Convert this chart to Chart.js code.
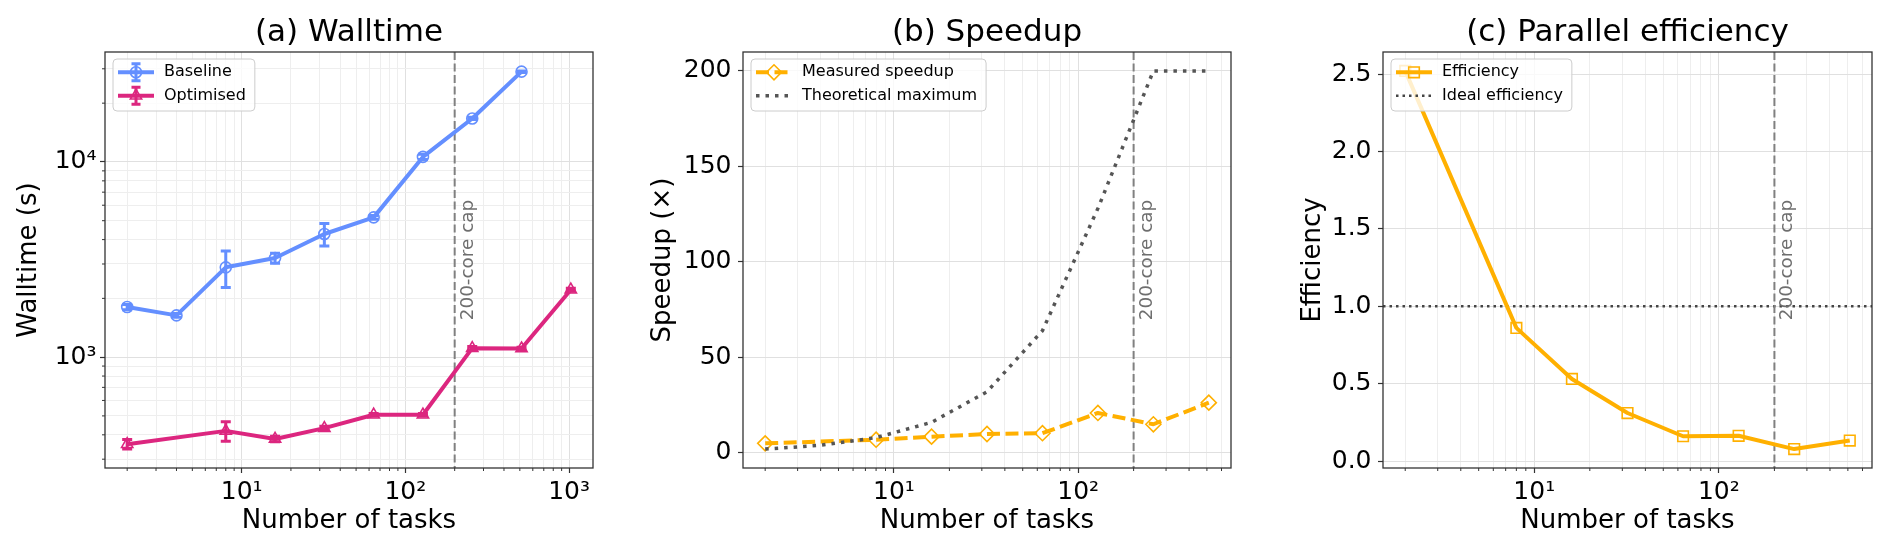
<!DOCTYPE html>
<html>
<head>
<meta charset="utf-8">
<title>Scaling results</title>
<script src="https://cdn.jsdelivr.net/npm/chart.js@4.4.1/dist/chart.umd.min.js"></script>
<style>
  html, body { margin: 0; padding: 0; background: #ffffff; }
  #figure { position: relative; width: 1892px; height: 546px; overflow: hidden; }
  #figure canvas { position: absolute; top: 0; }
</style>
</head>
<body>
<div id="figure">
  <canvas id="walltimeChart" width="630" height="546" style="left:0px"></canvas>
  <canvas id="speedupChart" width="630" height="546" style="left:630px"></canvas>
  <canvas id="efficiencyChart" width="632" height="546" style="left:1260px"></canvas>
</div>
<script>
// values
var tasksBaseline = [2, 4, 8, 16, 32, 64, 128, 256, 512];
var walltimeBaseline = [1805, 1636, 2884, 3220, 4274, 5200, 10610, 16700, 29000];
var errBaseline = [55, 35, 610, 190, 560, 110, 330, 220, 260];

var tasksOptimised = [2, 8, 16, 32, 64, 128, 256, 512, 1024];
var walltimeOptimised = [358, 419, 381, 433, 507, 507, 1112, 1107, 2216];
var errOptimised = [20, 48, 12, 10, 8, 8, 20, 18, 40];

var tasksScaling = [2, 8, 16, 32, 64, 128, 256, 512];
var speedupMeasured = [5.0, 6.9, 8.5, 9.9, 10.3, 20.9, 15.0, 26.3];
var efficiencyMeasured = [2.52, 0.86, 0.53, 0.31, 0.16, 0.163, 0.077, 0.132];

var tasksTheory = [2, 4, 8, 16, 32, 64, 128, 256, 512];
var speedupTheory = [2, 4, 8, 16, 32, 64, 128, 200, 200];

var coreCap = 200;
var idealEfficiency = 1.0;

var decadeLabels = {10: '10¹', 100: '10²', 1000: '10³', 10000: '10⁴'};
var speedupTicks = [0, 50, 100, 150, 200];
var efficiencyTicks = [0, 0.5, 1.0, 1.5, 2.0, 2.5];

var BLUE = '#648FFF', MAGENTA = '#DC267F', AMBER = '#FFB000';
var FONT = "'DejaVu Sans', sans-serif";
Chart.defaults.font.family = FONT;
Chart.defaults.color = '#000000';

function toPoints(xs, ys) {
  return xs.map(function (x, i) { return {x: x, y: ys[i]}; });
}
function isDecade(v) {
  var l = Math.log10(v);
  return Math.abs(l - Math.round(l)) < 1e-9;
}
// matplotlib style 5% margins
function logLimits(values) {
  var lo = Math.log10(Math.min.apply(null, values)), hi = Math.log10(Math.max.apply(null, values));
  var m = (hi - lo) * 0.05;
  return [Math.pow(10, lo - m), Math.pow(10, hi + m)];
}
function linLimits(values) {
  var lo = Math.min.apply(null, values), hi = Math.max.apply(null, values);
  var m = (hi - lo) * 0.05;
  return [lo - m, hi + m];
}
function logGridValues(lo, hi) {
  var out = [];
  for (var k = Math.floor(Math.log10(lo)); k <= Math.ceil(Math.log10(hi)); k++) {
    for (var d = 1; d <= 9; d++) {
      var v = d * Math.pow(10, k);
      if (v >= lo && v <= hi) out.push(v);
    }
  }
  return out;
}
function decadeLabel(v) { return decadeLabels[v] || ''; }

var logGrid = {
  color: function (c) { return c.tick && isDecade(c.tick.value) ? '#e0e0e0' : '#eeeeee'; },
  tickColor: function (c) { return c.tick && isDecade(c.tick.value) ? '#333333' : 'rgba(0,0,0,0)'; },
  tickLength: 5, tickWidth: 1.2, lineWidth: 1
};
var linGrid = { color: '#e0e0e0', tickColor: '#333333', tickLength: 5, tickWidth: 1.2, lineWidth: 1 };

function taskAxis(lim) {
  return {
    type: 'logarithmic', position: 'bottom', min: lim[0], max: lim[1], bounds: 'data',
    afterBuildTicks: function (axis) {
      axis.ticks = logGridValues(lim[0], lim[1]).map(function (v) { return {value: v}; });
    },
    afterFit: function (axis) { axis.height = 78; },
    ticks: {autoSkip: false, maxRotation: 0, minRotation: 0, padding: 4, font: {size: 25}, callback: decadeLabel},
    grid: logGrid,
    border: {display: false},
    title: {display: true, text: 'Number of tasks', font: {size: 26}, padding: {top: 0, bottom: 8.9}}
  };
}

function drawMarker(ctx, style, x, y, r) {
  ctx.beginPath();
  if (style === 'triangle') {
    ctx.moveTo(x, y - r); ctx.lineTo(x + 0.866 * r, y + 0.5 * r); ctx.lineTo(x - 0.866 * r, y + 0.5 * r); ctx.closePath();
  } else if (style === 'rectRot') {
    ctx.moveTo(x - r, y); ctx.lineTo(x, y - r); ctx.lineTo(x + r, y); ctx.lineTo(x, y + r); ctx.closePath();
  } else if (style === 'rect') {
    var s = Math.SQRT1_2 * r;
    ctx.rect(x - s, y - s, 2 * s, 2 * s);
  } else {
    ctx.arc(x, y, r, 0, 2 * Math.PI);
  }
  ctx.stroke();
}

// reference lines: 200-core cap and ideal efficiency
var refLines = {
  id: 'refLines',
  beforeDatasetsDraw: function (chart, args, opts) {
    var ctx = chart.ctx, a = chart.chartArea;
    ctx.save();
    if (opts.hLine) {
      var py = chart.scales.y.getPixelForValue(opts.hLine.value);
      ctx.strokeStyle = opts.hLine.color; ctx.lineWidth = opts.hLine.width; ctx.setLineDash(opts.hLine.dash);
      ctx.beginPath(); ctx.moveTo(a.left, py); ctx.lineTo(a.right, py); ctx.stroke();
    }
    var px = chart.scales.x.getPixelForValue(opts.vLine);
    ctx.strokeStyle = '#808080'; ctx.lineWidth = 2; ctx.setLineDash([8, 3.5]);
    ctx.beginPath(); ctx.moveTo(px, a.top); ctx.lineTo(px, a.bottom); ctx.stroke();
    ctx.restore();
  },
  afterDatasetsDraw: function (chart, args, opts) {
    var ctx = chart.ctx, a = chart.chartArea;
    var px = chart.scales.x.getPixelForValue(opts.vLine);
    ctx.save();
    ctx.translate(px + 18, (a.top + a.bottom) / 2);
    ctx.rotate(-Math.PI / 2);
    ctx.font = '18.4px ' + FONT;
    ctx.fillStyle = '#6e6e6e';
    ctx.textAlign = 'center';
    ctx.textBaseline = 'alphabetic';
    ctx.fillText(opts.vLabel, 0, 0);
    ctx.restore();
  }
};

var errorBars = {
  id: 'errorBars',
  beforeDatasetsDraw: function (chart) {
    var ctx = chart.ctx, a = chart.chartArea, xs = chart.scales.x, ys = chart.scales.y;
    ctx.save();
    ctx.beginPath(); ctx.rect(a.left, a.top, a.right - a.left, a.bottom - a.top); ctx.clip();
    chart.data.datasets.forEach(function (ds) {
      if (!ds.errors) return;
      ctx.strokeStyle = ds.borderColor; ctx.lineWidth = 3;
      ds.data.forEach(function (pt, i) {
        var e = ds.errors[i];
        var px = xs.getPixelForValue(pt.x);
        var top = ys.getPixelForValue(pt.y + e), bot = ys.getPixelForValue(pt.y - e);
        ctx.beginPath();
        ctx.moveTo(px, top); ctx.lineTo(px, bot);
        ctx.moveTo(px - 5, top); ctx.lineTo(px + 5, top);
        ctx.moveTo(px - 5, bot); ctx.lineTo(px + 5, bot);
        ctx.stroke();
      });
    });
    ctx.restore();
  }
};

// axes box and minor ticks
var frame = {
  id: 'frame',
  afterDatasetsDraw: function (chart) {
    var ctx = chart.ctx, a = chart.chartArea;
    ctx.save();
    ctx.strokeStyle = '#333333';
    ctx.lineWidth = 1.3;
    ctx.strokeRect(a.left, a.top, a.right - a.left, a.bottom - a.top);
    ctx.lineWidth = 1;
    Object.keys(chart.scales).forEach(function (k) {
      var s = chart.scales[k];
      if (s.type !== 'logarithmic') return;
      s.ticks.forEach(function (t) {
        if (isDecade(t.value)) return;
        var p = s.getPixelForValue(t.value);
        ctx.beginPath();
        if (s.isHorizontal()) { ctx.moveTo(p, a.bottom); ctx.lineTo(p, a.bottom + 3); }
        else { ctx.moveTo(a.left - 3, p); ctx.lineTo(a.left, p); }
        ctx.stroke();
      });
    });
    ctx.restore();
  }
};

var boxLegend = {
  id: 'boxLegend',
  afterDraw: function (chart, args, opts) {
    var ctx = chart.ctx, a = chart.chartArea;
    var items = chart.data.datasets.map(function (ds) {
      return {label: ds.label, color: ds.borderColor, width: ds.borderWidth, dash: ds.borderDash || [],
        marker: ds.pointRadius > 0 ? ds.pointStyle : null, radius: ds.pointRadius,
        markerWidth: ds.pointBorderWidth, errorbar: !!ds.errors};
    });
    if (opts.extra) items = items.concat(opts.extra);
    ctx.save();
    ctx.font = '16px ' + FONT;
    var textW = 0;
    items.forEach(function (it) { textW = Math.max(textW, ctx.measureText(it.label).width); });
    var x0 = a.left + 8, y0 = a.top + 7, w = 51 + textW + 9, h = 52;
    ctx.beginPath();
    ctx.roundRect(x0, y0, w, h, 4);
    ctx.fillStyle = 'rgba(255,255,255,0.8)';
    ctx.fill();
    ctx.strokeStyle = '#cccccc'; ctx.lineWidth = 1;
    ctx.stroke();
    items.forEach(function (it, i) {
      var cy = y0 + 13.3 + i * 23.4;
      var hx0 = x0 + 5, hx1 = x0 + 41, hm = (hx0 + hx1) / 2;
      ctx.strokeStyle = it.color;
      ctx.lineWidth = it.width;
      ctx.lineCap = 'butt';
      ctx.setLineDash(it.dash || []);
      ctx.beginPath(); ctx.moveTo(hx0, cy); ctx.lineTo(hx1, cy); ctx.stroke();
      ctx.setLineDash([]);
      if (it.errorbar) {
        ctx.lineWidth = 3;
        ctx.beginPath();
        ctx.moveTo(hm, cy - 8.5); ctx.lineTo(hm, cy + 8.5);
        ctx.moveTo(hm - 4.5, cy - 8.5); ctx.lineTo(hm + 4.5, cy - 8.5);
        ctx.moveTo(hm - 4.5, cy + 8.5); ctx.lineTo(hm + 4.5, cy + 8.5);
        ctx.stroke();
      }
      if (it.marker) {
        ctx.lineWidth = it.markerWidth;
        drawMarker(ctx, it.marker, hm, cy, it.radius);
      }
      ctx.fillStyle = '#000000';
      ctx.textAlign = 'left';
      ctx.textBaseline = 'middle';
      ctx.fillText(it.label, x0 + 51, cy);
    });
    ctx.restore();
  }
};

function panelTitle(text) {
  return {display: true, text: text, fullSize: false, color: '#000000',
    font: {size: 31, weight: 'normal'}, padding: {top: 14.2, bottom: 0.6}};
}

var plugins = [refLines, errorBars, frame, boxLegend];

// (a) walltime
var wallLim = logLimits(
  walltimeBaseline.map(function (v, i) { return v + errBaseline[i]; })
    .concat(walltimeOptimised.map(function (v, i) { return v - errOptimised[i]; })));

new Chart(document.getElementById('walltimeChart'), {
  type: 'line',
  data: {
    datasets: [{
      label: 'Baseline',
      data: toPoints(tasksBaseline, walltimeBaseline),
      errors: errBaseline,
      borderColor: BLUE, borderWidth: 4, borderJoinStyle: 'round',
      pointStyle: 'circle', pointRadius: 5.5, pointBorderWidth: 1.6,
      pointBorderColor: BLUE, pointBackgroundColor: 'rgba(0,0,0,0)'
    }, {
      label: 'Optimised',
      data: toPoints(tasksOptimised, walltimeOptimised),
      errors: errOptimised,
      borderColor: MAGENTA, borderWidth: 4, borderJoinStyle: 'round',
      pointStyle: 'triangle', pointRadius: 6.5, pointBorderWidth: 1.6,
      pointBorderColor: MAGENTA, pointBackgroundColor: 'rgba(0,0,0,0)'
    }]
  },
  options: {
    responsive: false, animation: false,
    layout: {padding: {left: 0, right: 37, top: 0, bottom: 0}},
    plugins: {
      legend: {display: false}, tooltip: {enabled: false},
      title: panelTitle('(a) Walltime'),
      refLines: {vLine: coreCap, vLabel: '200-core cap'}
    },
    scales: {
      x: taskAxis(logLimits(tasksBaseline.concat(tasksOptimised))),
      y: {
        type: 'logarithmic', position: 'left', min: wallLim[0], max: wallLim[1], bounds: 'data',
        afterBuildTicks: function (axis) {
          axis.ticks = logGridValues(wallLim[0], wallLim[1]).map(function (v) { return {value: v}; });
        },
        afterFit: function (axis) { axis.width = 105; },
        ticks: {autoSkip: false, padding: 3.5, font: {size: 25}, callback: decadeLabel},
        grid: logGrid,
        border: {display: false},
        title: {display: true, text: 'Walltime (s)', font: {size: 26}, padding: {top: 13.4, bottom: 0}}
      }
    }
  },
  plugins: plugins
});

// (b) speedup
var speedLim = linLimits(speedupMeasured.concat(speedupTheory));
new Chart(document.getElementById('speedupChart'), {
  type: 'line',
  data: {
    datasets: [{
      label: 'Measured speedup',
      data: toPoints(tasksScaling, speedupMeasured),
      order: 1,
      borderColor: AMBER, borderWidth: 4, borderDash: [13, 5.5], borderJoinStyle: 'round',
      pointStyle: 'rectRot', pointRadius: 7.5, pointBorderWidth: 1.6,
      pointBorderColor: AMBER, pointBackgroundColor: 'rgba(0,0,0,0)'
    }, {
      label: 'Theoretical maximum',
      data: toPoints(tasksTheory, speedupTheory),
      order: 0,
      borderColor: '#555555', borderWidth: 3.5, borderDash: [3.5, 6],
      pointRadius: 0
    }]
  },
  options: {
    responsive: false, animation: false,
    layout: {padding: {left: 0, right: 29, top: 0, bottom: 0}},
    plugins: {
      legend: {display: false}, tooltip: {enabled: false},
      title: panelTitle('(b) Speedup'),
      refLines: {vLine: coreCap, vLabel: '200-core cap'}
    },
    scales: {
      x: taskAxis(logLimits(tasksScaling.concat(tasksTheory))),
      y: {
        type: 'linear', position: 'left', min: speedLim[0], max: speedLim[1], bounds: 'data',
        afterBuildTicks: function (axis) { axis.ticks = speedupTicks.map(function (v) { return {value: v}; }); },
        afterFit: function (axis) { axis.width = 113; },
        ticks: {autoSkip: false, padding: 6.5, font: {size: 25}, callback: function (v) { return String(v); }},
        grid: linGrid,
        border: {display: false},
        title: {display: true, text: 'Speedup (×)', font: {size: 26}, padding: {top: 17.9, bottom: 0}}
      }
    }
  },
  plugins: plugins
});

// (c) parallel efficiency
var effLim = linLimits(efficiencyMeasured);
new Chart(document.getElementById('efficiencyChart'), {
  type: 'line',
  data: {
    datasets: [{
      label: 'Efficiency',
      data: toPoints(tasksScaling, efficiencyMeasured),
      borderColor: AMBER, borderWidth: 4, borderJoinStyle: 'round',
      pointStyle: 'rect', pointRadius: 7.5, pointBorderWidth: 1.6,
      pointBorderColor: AMBER, pointBackgroundColor: 'rgba(0,0,0,0)'
    }]
  },
  options: {
    responsive: false, animation: false,
    layout: {padding: {left: 0, right: 20, top: 0, bottom: 0}},
    plugins: {
      legend: {display: false}, tooltip: {enabled: false},
      title: panelTitle('(c) Parallel efficiency'),
      refLines: {
        vLine: coreCap, vLabel: '200-core cap',
        hLine: {value: idealEfficiency, color: '#444444', width: 2.5, dash: [2.5, 4]}
      },
      boxLegend: {extra: [{label: 'Ideal efficiency', color: '#444444', width: 2.5, dash: [2.5, 4]}]}
    },
    scales: {
      x: taskAxis(logLimits(tasksScaling)),
      y: {
        type: 'linear', position: 'left', min: effLim[0], max: effLim[1], bounds: 'data',
        afterBuildTicks: function (axis) { axis.ticks = efficiencyTicks.map(function (v) { return {value: v}; }); },
        afterFit: function (axis) { axis.width = 123; },
        ticks: {autoSkip: false, padding: 6.5, font: {size: 25}, callback: function (v) { return v.toFixed(1); }},
        grid: linGrid,
        border: {display: false},
        title: {display: true, text: 'Efficiency', font: {size: 26}, padding: {top: 37.9, bottom: 0}}
      }
    }
  },
  plugins: plugins
});
</script>
</body>
</html>
